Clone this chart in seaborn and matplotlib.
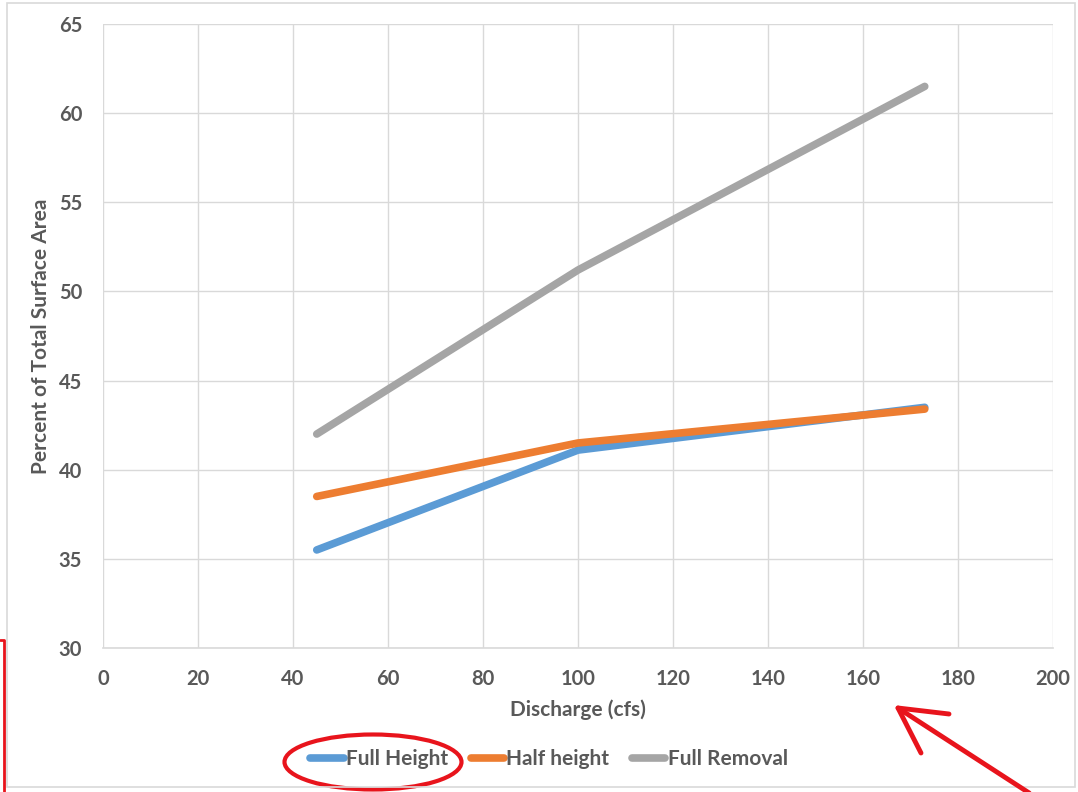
import numpy as np
import pandas as pd
import matplotlib.pyplot as plt
import matplotlib.patches as mpatches
from matplotlib.lines import Line2D
import seaborn as sns

# values
discharge = [45, 100, 173]
full_height = [35.5, 41.1, 43.5]
half_height = [38.5, 41.5, 43.4]
full_removal = [42.0, 51.2, 61.5]
series_names = ['Full Height', 'Half height', 'Full Removal']
colours = ['#5B9BD5', '#ED7D31', '#A5A5A5']
x_ticks = list(range(0, 201, 20))
y_ticks = list(range(30, 66, 5))

df = pd.DataFrame({
    'Discharge (cfs)': discharge * 3,
    'Percent': full_height + half_height + full_removal,
    'Series': [n for n in series_names for _ in discharge],
})

sns.set_theme(style='whitegrid')
plt.rcParams['font.family'] = ['Lato', 'DejaVu Sans']

W, H = 1078, 792
fig = plt.figure(figsize=(W / 100, H / 100), dpi=100)
ax = fig.add_axes([103 / W, 1 - 648 / H, 950 / W, 624 / H])

sns.lineplot(data=df, x='Discharge (cfs)', y='Percent', hue='Series',
             palette=colours, linewidth=5.5, ax=ax, legend=False,
             solid_capstyle='round')

ax.set_xlim(0, 200)
ax.set_ylim(30, 65)
ax.set_xticks(x_ticks)
ax.set_yticks(y_ticks)
ax.grid(True, color='#D9D9D9', linewidth=1)
for side in ['left', 'right', 'top']:
    ax.spines[side].set_visible(False)
ax.spines['bottom'].set_color('#D9D9D9')
ax.spines['bottom'].set_linewidth(1.2)
ax.tick_params(length=0, labelsize=14.5, labelcolor='#595959', pad=15)
for lab in ax.get_xticklabels() + ax.get_yticklabels():
    lab.set_fontweight('bold')

ax.set_xlabel('Discharge (cfs)', fontsize=15, fontweight='bold', color='#595959')
ax.set_ylabel('Percent of Total Surface Area', fontsize=15, fontweight='bold', color='#595959')
ax.xaxis.set_label_coords(0.5, -0.082)
ax.yaxis.set_label_coords(-0.055, 0.5)

handles = [Line2D([0], [0], color=c, linewidth=5.5, solid_capstyle='round') for c in colours]
leg = fig.legend(handles, series_names, loc='center', bbox_to_anchor=(549 / W, 1 - 759 / H),
                 ncol=3, frameon=False, handlelength=1.6, handletextpad=0.1,
                 columnspacing=1.1, prop={'size': 15, 'weight': 'bold'})
for t in leg.get_texts():
    t.set_color('#595959')

# outer chart border
fig.patches.append(mpatches.Rectangle((7 / W, 1 - 787 / H), 1068 / W, 784 / H,
                                      transform=fig.transFigure, fill=False,
                                      edgecolor='#D9D9D9', linewidth=1.2))

# red markup drawn over the chart
red = '#E8141C'
fig.add_artist(Line2D([0, 4 / W, 4 / W], [1 - 640 / H, 1 - 640 / H, 0],
                      transform=fig.transFigure, color=red, linewidth=2))
fig.add_artist(mpatches.Ellipse((373 / W, 1 - 762 / H), 177 / W, 55 / H,
                                transform=fig.transFigure, fill=False,
                                edgecolor=red, linewidth=3))
fig.add_artist(Line2D([1040 / W, 898 / W], [1 - 800 / H, 1 - 708 / H],
                      transform=fig.transFigure, color=red, linewidth=3.5))
fig.add_artist(Line2D([949 / W, 898 / W, 921 / W], [1 - 714 / H, 1 - 708 / H, 1 - 753 / H],
                      transform=fig.transFigure, color=red, linewidth=3.5))

fig.savefig('out.png', dpi=100)
